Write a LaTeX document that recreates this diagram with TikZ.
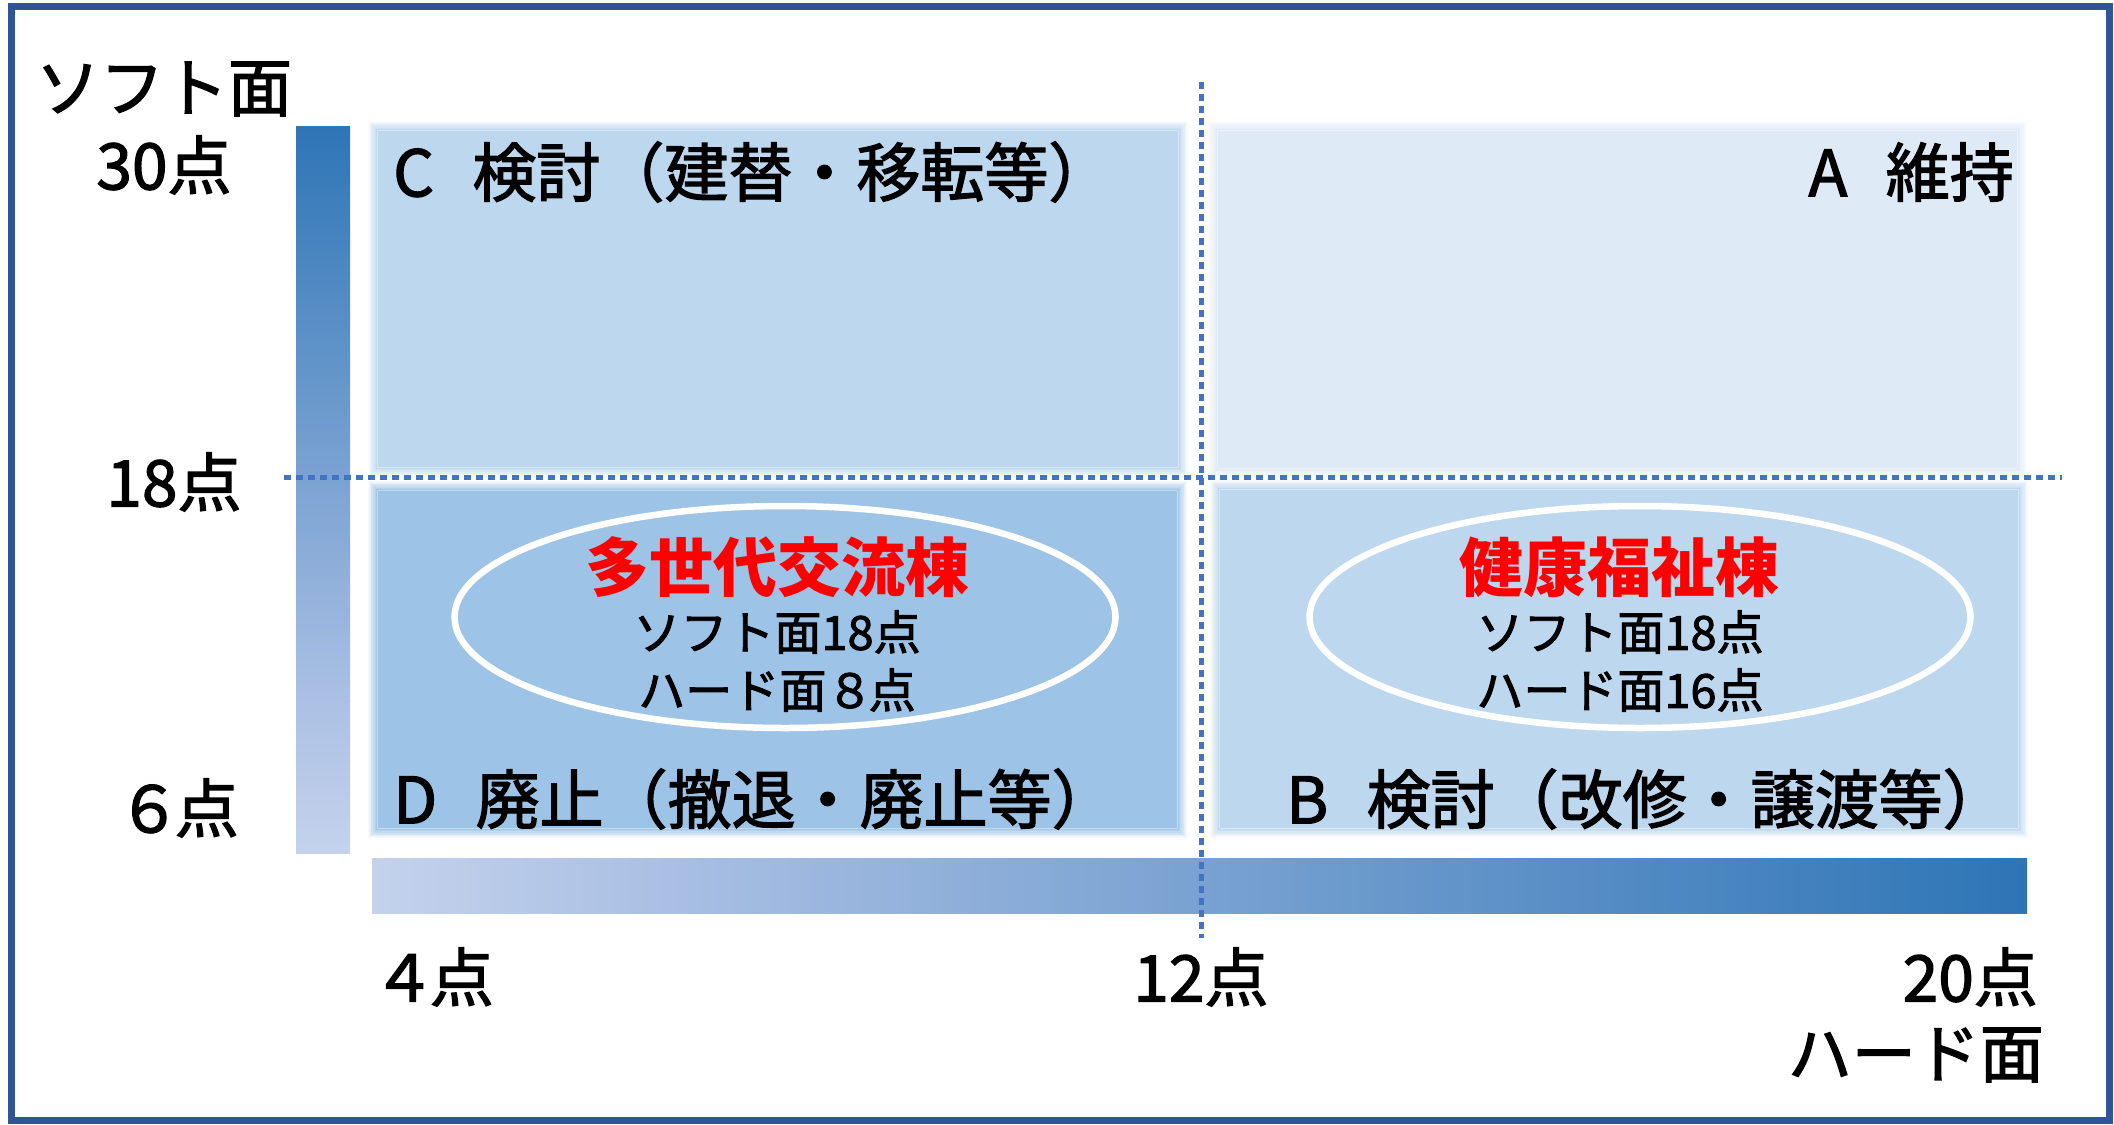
\documentclass[tikz,border=0pt]{standalone}
\usepackage{fontspec}
\setmainfont{Noto Sans CJK JP}
\newfontfamily\medfont{Noto Sans CJK JP}[FakeBold=2]
\usetikzlibrary{shapes.geometric}
\definecolor{frameblue}{RGB}{47,85,151}
\definecolor{qC}{RGB}{189,215,238}
\definecolor{qA}{RGB}{222,234,246}
\definecolor{qD}{RGB}{157,195,230}
\definecolor{qB}{RGB}{189,215,238}
\definecolor{dotblue}{RGB}{68,114,196}
\definecolor{gDark}{RGB}{46,117,182}
\definecolor{gMid}{RGB}{171,192,228}
\definecolor{gLight}{RGB}{196,210,236}
\definecolor{txtred}{RGB}{255,0,0}
\newcommand\softbox[5]{%
  \foreach \jj in {0,...,5}{%
    \pgfmathsetmacro\ia{\jj*1.6}%
    \pgfmathsetmacro\ib{(\jj+1)*1.6}%
    \pgfmathsetmacro\op{(\jj+0.5)/6}%
    \fill[#1, opacity=\op, even odd rule]
      ({#2-5+\ia},{#3-5+\ia}) rectangle ({#4+5-\ia},{#5+5-\ia})
      ({#2-5+\ib},{#3-5+\ib}) rectangle ({#4+5-\ib},{#5+5-\ib});
  }%
  \fill[#1] ({#2+4.6},{#3+4.6}) rectangle ({#4-4.6},{#5-4.6});
}
\begin{document}
\begin{tikzpicture}[x=1pt,y=-1pt,
  lbl/.style={font=\medfont\fontsize{64}{72}\selectfont, inner sep=0pt, text=black},
  sml/.style={font=\medfont\fontsize{47}{56}\selectfont, inner sep=0pt, text=black},
  bigred/.style={font=\fontsize{64}{72}\selectfont\bfseries, inner sep=0pt, text=txtred},
  dotline/.style={draw=dotblue, line width=5pt, dash pattern=on 7pt off 5pt},
  ring/.style={draw=white, line width=6.5pt, ellipse, minimum width=661pt, minimum height=222pt, inner sep=0pt}
]
\useasboundingbox (0,0) rectangle (2114,1124);
\fill[white] (0,0) rectangle (2114,1124);
% frame
\draw[frameblue, line width=7pt] (11,7) rectangle (2109,1120);
% quadrants
\softbox{qC}{373}{126}{1183}{472}
\softbox{qA}{1213}{126}{2022}{473}
\softbox{qD}{373}{486}{1182}{833}
\softbox{qB}{1215}{485}{2023}{833}
% gradient bars
\shade[top color=gDark, bottom color=gMid] (296,126) rectangle (350,701);
\shade[top color=gMid, bottom color=gLight] (296,700) rectangle (350,853);
\shade[left color=gLight, right color=gMid] (372,858) rectangle (651,913);
\shade[left color=gMid, right color=gDark] (650,858) rectangle (2027,913);
% ellipses
\node[ring] (eL) at (785,617) {};
\node[ring] (eR) at (1640,617) {};
% building texts
\node[bigred] (tL1) at (777,567) {多世代交流棟};
\node[sml] (tL2) at (777,632) {ソフト面18点};
\node[sml] (tL3) at (777,690) {ハード面８\kern-0.1em 点};
\node[bigred] (tR1) at (1619,567) {健康福祉棟};
\node[sml] (tR2) at (1620,632) {ソフト面18点};
\node[sml] (tR3) at (1620,690) {ハード面16点};
% quadrant labels
\node[lbl, anchor=west] (qCt) at (393,172) {C\hspace{0.6em}検討（建替・移転等）};
\node[lbl, anchor=east] (qAt) at (2014,172) {A\hspace{0.6em}維持};
\node[lbl, anchor=west] (qDt) at (393,799) {D\hspace{0.6em}廃止（撤退・廃止等）};
\node[lbl, anchor=west] (qBt) at (1286,799) {B\hspace{0.6em}検討（改修・譲渡等）};
% axis labels
\node[lbl] (ySoft) at (164,89) {ソフト面};
\node[lbl] (y30) at (164,165) {30点};
\node[lbl] (y18) at (174,482) {18点};
\node[lbl] (y6) at (178,808) {６\kern-0.1em 点};
\node[lbl, anchor=west] (x4) at (372,977) {４\kern-0.1em 点};
\node[lbl] (x12) at (1201,977) {12点};
\node[lbl, anchor=east] (x20) at (2038,977) {20点};
\node[lbl, anchor=east] (xHard) at (2044,1055) {ハード面};
% dotted lines
\coordinate (hL) at (284,477);
\coordinate (hR) at (2062,477);
\coordinate (vT) at (1201,82);
\coordinate (vB) at (1201,938);
\draw[dotline] (hL) -- (hR);
\draw[dotline] (vT) -- (vB);
\end{tikzpicture}
\end{document}
